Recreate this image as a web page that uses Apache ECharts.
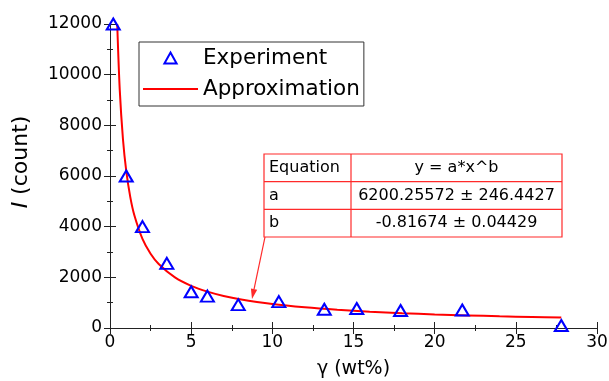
<!DOCTYPE html>
<html>
<head>
<meta charset="utf-8">
<script src="https://cdn.jsdelivr.net/npm/echarts@6/dist/echarts.min.js"></script>
<style>html,body{margin:0;padding:0;background:#fff}#c{width:609px;height:381px}</style>
</head>
<body>
<div id="c"></div>
<script>
// Experiment data
const expX = [0.2, 1.0, 2.0, 3.5, 5.0, 6.0, 7.9, 10.4, 13.2, 15.2, 17.9, 21.7, 27.8];
const expY = [12000, 6000, 4000, 2550, 1430, 1260, 920, 1040, 740, 770, 690, 710, 100];
// Approximation curve
const fitX = [0.445, 0.6, 0.8, 1, 1.25, 1.5, 2, 2.5, 3, 4, 5, 6, 7, 8, 10, 12, 14, 16, 18, 20, 22, 24, 26, 27.8];
const fitY = [12000, 9410, 7440, 6200, 5167, 4452, 3520, 2933, 2528, 1998, 1665, 1435, 1265, 1135, 946, 815, 718, 644, 585, 537, 497, 463, 433, 410];
// Table
const tableRows = [
  ['Equation', 'y = a*x^b'],
  ['a', '6200.25572 \u00b1 246.4427'],
  ['b', '-0.81674 \u00b1 0.04429']
];
const seriesNames = ['Experiment', 'Approximation'];
const xName = '\u03b3 (wt%)';

const FF = '"DejaVu Sans", "Liberation Sans", Arial, sans-serif';
const chart = echarts.init(document.getElementById('c'), null, {renderer: 'canvas'});

const axisCommon = {
  axisLine: {show: true, lineStyle: {color: '#222', width: 1}},
  axisTick: {show: true, inside: true, length: 6, lineStyle: {color: '#222', width: 1}},
  minorTick: {show: true, splitNumber: 2, length: 3, lineStyle: {color: '#222', width: 1}},
  splitLine: {show: false},
  minorSplitLine: {show: false}
};

// Table graphic
const tL = 264, tT = 154, tR = 562, tB = 237, tC = 351;
const rowH = (tB - tT) / tableRows.length;
const RED = '#ff2a2a';
const els = [];
els.push({type: 'rect', shape: {x: tL, y: tT, width: tR - tL, height: tB - tT},
  style: {fill: '#fff', stroke: RED, lineWidth: 1.2}, z: 10});
for (let i = 1; i < tableRows.length; i++) {
  els.push({type: 'line', shape: {x1: tL, y1: tT + rowH * i, x2: tR, y2: tT + rowH * i},
    style: {stroke: RED, lineWidth: 1.2}, z: 11});
}
els.push({type: 'line', shape: {x1: tC, y1: tT, x2: tC, y2: tB},
  style: {stroke: RED, lineWidth: 1.2}, z: 11});
tableRows.forEach((r, i) => {
  const cy = tT + rowH * (i + 0.5);
  els.push({type: 'text', x: tL + 5, y: cy, z: 12,
    style: {text: r[0], font: '16px ' + FF, fill: '#000', align: 'left', verticalAlign: 'middle'}});
  els.push({type: 'text', x: (tC + tR) / 2, y: cy, z: 12,
    style: {text: r[1], font: '16px ' + FF, fill: '#000', align: 'center', verticalAlign: 'middle'}});
});
// Arrow from table to curve
const ax1 = 265, ay1 = 237, ax2 = 252, ay2 = 299;
const dx = ax2 - ax1, dy = ay2 - ay1, dl = Math.sqrt(dx * dx + dy * dy);
const ux = dx / dl, uy = dy / dl;
const bx = ax2 - ux * 10, by = ay2 - uy * 10;
els.push({type: 'line', shape: {x1: ax1, y1: ay1, x2: bx, y2: by}, style: {stroke: RED, lineWidth: 1.2}, z: 11});
els.push({type: 'polygon', shape: {points: [[ax2, ay2], [bx - uy * 3.2, by + ux * 3.2], [bx + uy * 3.2, by - ux * 3.2]]},
  style: {fill: RED}, z: 11});
// Y axis name
els.push({type: 'text', x: 21, y: 162, rotation: Math.PI / 2, z: 12,
  style: {text: '{i|I} (count)', fontSize: 22, fontFamily: FF, fill: '#000', align: 'center', verticalAlign: 'middle',
    rich: {i: {fontStyle: 'italic', fontSize: 22, fontFamily: FF, fill: '#000'}}}});

const option = {
  animation: false,
  textStyle: {fontFamily: FF},
  grid: {left: 110, right: 12, top: 24, bottom: 53, containLabel: false, outerBoundsMode: 'none'},
  xAxis: [
    Object.assign({type: 'value', min: 0, max: 30, interval: 5, position: 'bottom',
      axisLabel: {fontSize: 17, color: '#000', margin: 6, fontFamily: FF},
      name: xName, nameLocation: 'middle', nameGap: 32,
      nameTextStyle: {fontSize: 19, color: '#000', fontFamily: FF}}, axisCommon),
    Object.assign({type: 'value', min: 0, max: 30, interval: 5, position: 'top',
      axisLabel: {show: false}}, axisCommon)
  ],
  yAxis: [
    Object.assign({type: 'value', min: 0, max: 12000, interval: 2000, position: 'left',
      axisLabel: {fontSize: 17, color: '#000', margin: 8, fontFamily: FF, formatter: v => String(v)}}, axisCommon),
    Object.assign({type: 'value', min: 0, max: 12000, interval: 2000, position: 'right',
      axisLabel: {show: false}}, axisCommon)
  ],
  legend: {
    orient: 'vertical', left: 139, top: 42,
    itemWidth: 55, itemHeight: 11, itemGap: 5, itemTextGap: 9,
    padding: [3, 4, 4, 3],
    borderColor: '#333', borderWidth: 1, backgroundColor: '#fff',
    textStyle: {fontSize: 21.5, lineHeight: 26, color: '#000', fontFamily: FF},
    data: [
      {name: seriesNames[0], icon: 'path://M5,0L10,9L0,9Z',
        itemStyle: {color: 'transparent', borderColor: '#0000ff', borderWidth: 2}},
      {name: seriesNames[1], itemStyle: {opacity: 0}, lineStyle: {color: '#ff0000', width: 2, opacity: 1}}
    ]
  },
  series: [
    {
      name: seriesNames[1], type: 'line', xAxisIndex: 0, yAxisIndex: 0,
      data: fitX.map((x, i) => [x, fitY[i]]),
      smooth: 0.3, showSymbol: false, symbol: 'none',
      lineStyle: {color: '#ff0000', width: 2}, itemStyle: {color: '#ff0000'}, z: 3
    },
    {
      name: seriesNames[0], type: 'scatter', xAxisIndex: 0, yAxisIndex: 0,
      data: expX.map((x, i) => [x, expY[i]]),
      symbol: 'triangle', symbolSize: [13, 11],
      itemStyle: {color: 'transparent', borderColor: '#0000ff', borderWidth: 2, opacity: 1}, z: 4
    }
  ],
  graphic: els
};
chart.setOption(option);
</script>
</body>
</html>
